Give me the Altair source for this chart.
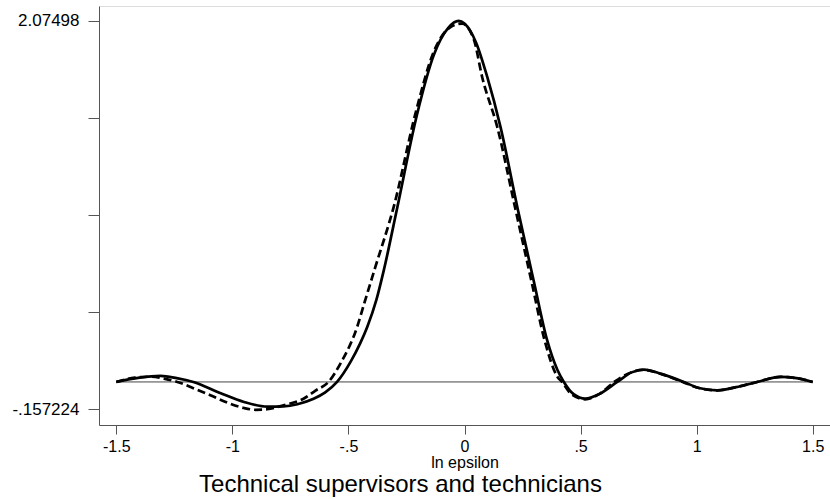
import altair as alt
import pandas as pd

# Solid curve
solid_x = [-1.5, -1.4, -1.31, -1.24, -1.168, -1.05, -0.95, -0.85, -0.78, -0.72, -0.65, -0.6,
           -0.549, -0.491, -0.45, -0.419, -0.38, -0.348, -0.29, -0.204, -0.132, -0.07, -0.025,
           0.0, 0.05, 0.098, 0.155, 0.23, 0.30, 0.356, 0.40, 0.428, 0.47, 0.521, 0.58, 0.658,
           0.72, 0.773, 0.85, 0.945, 1.01, 1.089, 1.17, 1.261, 1.362, 1.43, 1.5]
solid_y = [0.0, 0.025, 0.035, 0.022, 0.0, -0.065, -0.115, -0.142, -0.14, -0.128, -0.097, -0.06,
           0.0, 0.115, 0.22, 0.316, 0.47, 0.64, 1.0, 1.54, 1.88, 2.035, 2.075,
           2.06, 1.95, 1.753, 1.466, 0.99, 0.57, 0.24, 0.07, 0.0, -0.07, -0.096, -0.07, 0.0,
           0.055, 0.071, 0.045, 0.0, -0.035, -0.048, -0.03, 0.0, 0.029, 0.022, 0.0]

# Dashed curve
dashed_x = [-1.5, -1.42, -1.353, -1.29, -1.237, -1.16, -1.095, -1.02, -0.95, -0.9, -0.85, -0.78,
            -0.69, -0.642, -0.586, -0.534, -0.4625, -0.43, -0.384, -0.305, -0.21, -0.132, -0.06,
            -0.01, 0.04, 0.076, 0.141, 0.22, 0.29, 0.345, 0.40, 0.42, 0.46, 0.52, 0.58, 0.645,
            0.70, 0.77, 0.85, 0.94, 1.01, 1.09, 1.17, 1.26, 1.36, 1.43, 1.5]
dashed_y = [0.0, 0.025, 0.03, 0.018, 0.0, -0.04, -0.076, -0.12, -0.15, -0.16, -0.157, -0.134,
            -0.094, -0.05, 0.0, 0.107, 0.316, 0.46, 0.661, 1.006, 1.55, 1.90, 2.04,
            2.06, 1.97, 1.753, 1.466, 0.99, 0.57, 0.24, 0.03, 0.0, -0.07, -0.10, -0.07, 0.0,
            0.045, 0.07, 0.045, 0.0, -0.035, -0.048, -0.03, 0.0, 0.029, 0.022, 0.0]

x_ticks = [-1.5, -1, -0.5, 0, 0.5, 1, 1.5]
y_ticks = [-0.157224, 0.400827, 0.958878, 1.516929, 2.07498]
x_domain = [-1.5746, 1.5746]
y_domain = [-0.2475, 2.161]

FONT = "Liberation Sans"

solid_df = pd.DataFrame({"x": solid_x, "y": solid_y})
dashed_df = pd.DataFrame({"x": dashed_x, "y": dashed_y})
zero_df = pd.DataFrame({"x": [x_ticks[0]], "x2": [x_ticks[-1]], "y": [0.0]})

xscale = alt.Scale(domain=x_domain, nice=False, zero=False)
yscale = alt.Scale(domain=y_domain, nice=False, zero=False)

xaxis = alt.Axis(
    values=x_ticks, title="ln epsilon", grid=False,
    labelExpr="replace(datum.value + '', '0.', '.')",
    labelFont=FONT, labelFontSize=16, labelColor="black", labelPadding=4,
    labelFlush=False, labelOverlap=False,
    titleFont=FONT, titleFontSize=16, titleFontWeight="normal", titleColor="black",
    titlePadding=0,
    tickSize=9, tickColor="#555555", domainColor="#555555", tickWidth=1, domainWidth=1,
)
yaxis = alt.Axis(
    values=y_ticks, title=None, grid=False,
    labelExpr="datum.value > 2 ? '2.07498' : (datum.value < 0 ? '-.157224' : '')",
    labelFont=FONT, labelFontSize=17, labelColor="black", labelPadding=9,
    labelFlush=False, labelOverlap=False,
    tickSize=11, tickColor="#555555", domainColor="#555555", tickWidth=1, domainWidth=1,
)

zero_line = alt.Chart(zero_df).mark_rule(color="#444444", strokeWidth=1).encode(
    x=alt.X("x:Q", scale=xscale, axis=xaxis),
    x2="x2:Q",
    y=alt.Y("y:Q", scale=yscale, axis=yaxis),
)

solid = alt.Chart(solid_df).mark_line(
    color="black", strokeWidth=2.7, interpolate="monotone"
).encode(
    x=alt.X("x:Q", scale=xscale, axis=xaxis),
    y=alt.Y("y:Q", scale=yscale, axis=yaxis),
    order="x:Q",
)

dashed = alt.Chart(dashed_df).mark_line(
    color="black", strokeWidth=2.7, strokeDash=[8, 4], interpolate="monotone"
).encode(
    x=alt.X("x:Q", scale=xscale, axis=xaxis),
    y=alt.Y("y:Q", scale=yscale, axis=yaxis),
    order="x:Q",
)

chart = alt.layer(zero_line, solid, dashed).properties(
    width=731,
    height=419,
    autosize=alt.AutoSizeParams(type="none"),
    padding={"left": 99, "top": 6, "right": 0, "bottom": 74},
    title=alt.TitleParams(
        "Technical supervisors and technicians",
        orient="bottom", anchor="middle", fontSize=24, font=FONT,
        fontWeight="normal", color="black", dx=-64, offset=3,
    ),
).configure_view(stroke=None).configure(background="white")

chart.save("out.html", embed_options={"renderer": "svg", "actions": False})
